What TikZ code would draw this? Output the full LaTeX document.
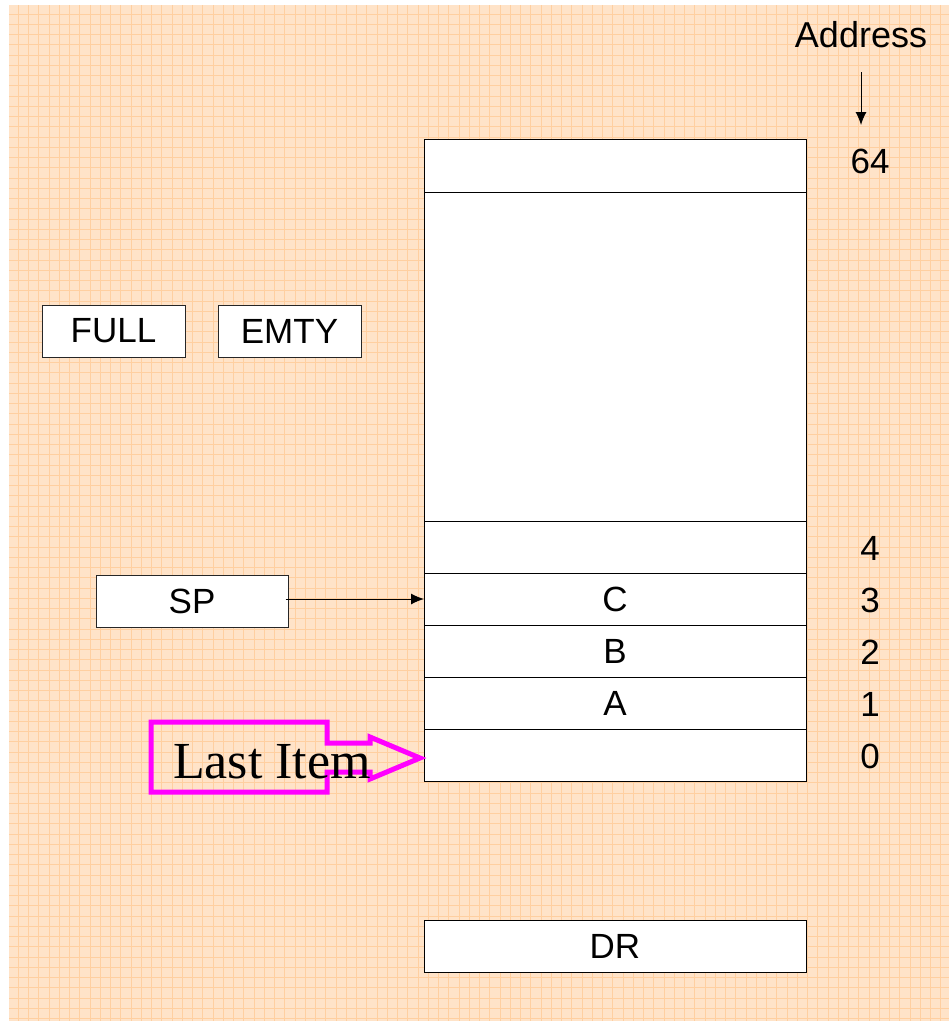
\documentclass[tikz,border=0pt]{standalone}
\usepackage{fontspec}
\setmainfont{Liberation Serif}
\setsansfont{Liberation Sans}
\usetikzlibrary{arrows.meta}
\definecolor{peach}{RGB}{255,227,200}
\definecolor{gridc}{RGB}{255,207,160}
\definecolor{mag}{RGB}{255,0,255}
\begin{document}
\begin{tikzpicture}[x=1pt,y=-1pt,
  cell/.style={draw=black,fill=white,line width=1pt,minimum width=382pt,minimum height=52pt,inner sep=0pt,outer sep=0pt,anchor=north west,font=\sffamily\fontsize{35}{40}\selectfont},
  lbl/.style={font=\sffamily\fontsize{35}{40}\selectfont,inner sep=0pt},
  regbox/.style={draw=black!85,fill=white,line width=1pt,inner sep=0pt,minimum height=52pt,font=\sffamily\fontsize{35}{40}\selectfont},
  arr/.style={line width=1pt,-{Latex[length=13pt,width=11pt]}}]
\useasboundingbox (0,0) rectangle (949,1021);
% background
\fill[peach] (9,5) rectangle (949,1021);
\foreach \i in {0,...,90} {
  \draw[gridc,line width=0.9pt] ({18.3+10.25*\i},5) -- ({18.3+10.25*\i},1021);
}
\foreach \j in {0,...,98} {
  \draw[gridc,line width=0.9pt] (9,{14+10.25*\j}) -- (949,{14+10.25*\j});
}
% memory
\node[cell,minimum height=53pt] (r64) at (424,139) {};
\node[cell,minimum height=329pt] (big) at (424,192) {};
\node[cell] (r4) at (424,521) {};
\node[cell] (r3) at (424,573) {C};
\node[cell] (r2) at (424,625) {B};
\node[cell] (r1) at (424,677) {A};
\node[cell] (r0) at (424,729) {};
% addresses
\node[lbl,font=\sffamily\fontsize{36}{40}\selectfont] (addr) at (861,35) {Address};
\node[lbl] (n64) at (870,161) {64};
\node[lbl] (n4) at (870,548) {4};
\node[lbl] (n3) at (870,600) {3};
\node[lbl] (n2) at (870,652) {2};
\node[lbl] (n1) at (870,704) {1};
\node[lbl] (n0) at (870,756) {0};
\coordinate (at) at (861,72);
\coordinate (ab) at (861,125);
\draw[arr] (at) -- (ab);
% flags
\node[regbox,minimum width=143pt] (full) at (113.5,331) {FULL};
\node[regbox,minimum width=143pt] (emty) at (289.5,331) {EMTY};
\node[regbox,minimum width=192pt] (sp) at (192,601) {SP};
\draw[arr] ([xshift=-3pt]sp.east |- r3.west) -- (r3.west);
% DR
\node[cell] (dr) at (424,920) {DR};
% Last item block arrow
\coordinate (tip) at (420,758);
\draw[mag,line width=5pt,line join=miter]
  (151,722) -- (327,722) -- (327,743) -- (370,743) -- (370,737) -- (tip)
  -- (370,779) -- (370,772) -- (327,772) -- (327,792) -- (151,792) -- cycle;
\node[font=\rmfamily\fontsize{52}{56}\selectfont,inner sep=0pt,anchor=base] (last) at (272,778) {Last Item};
\end{tikzpicture}
\end{document}
